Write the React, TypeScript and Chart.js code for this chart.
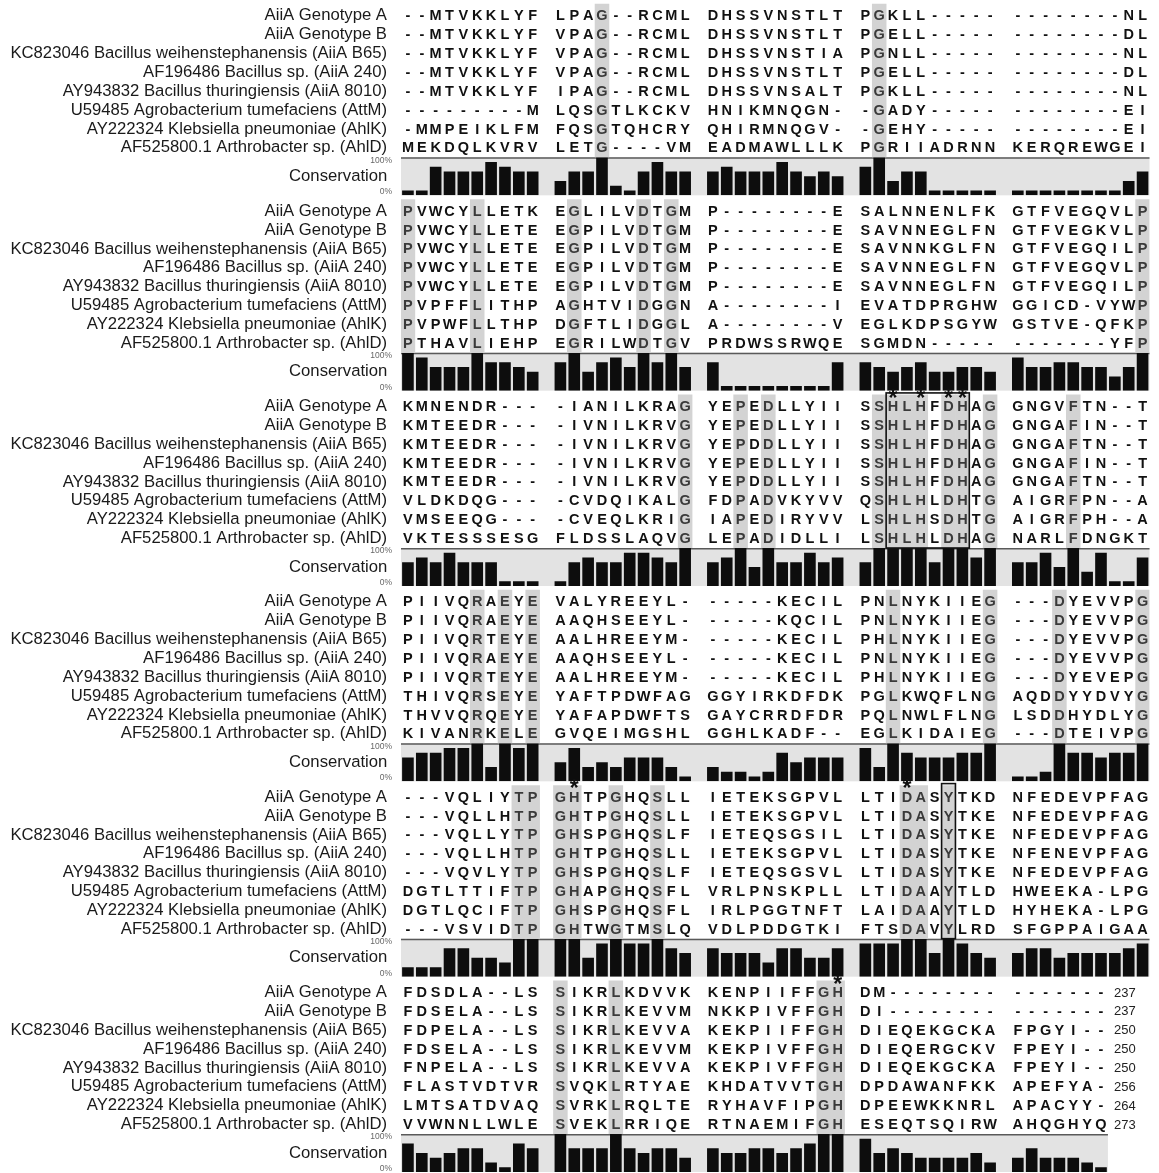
import React, { useEffect, useRef } from "react";
import { Chart, registerables } from "chart.js";

Chart.register(...registerables);

const FONT = '"Liberation Sans", Arial, Helvetica, sans-serif';

// ---------------- data ----------------
const sequenceNames = [
  "AiiA Genotype A",
  "AiiA Genotype B",
  "KC823046 Bacillus weihenstephanensis (AiiA B65)",
  "AF196486 Bacillus sp. (AiiA 240)",
  "AY943832 Bacillus thuringiensis (AiiA 8010)",
  "U59485 Agrobacterium tumefaciens (AttM)",
  "AY222324 Klebsiella pneumoniae (AhlK)",
  "AF525800.1 Arthrobacter sp. (AhlD)",
];

const endNumbers = [237, 237, 250, 250, 250, 256, 264, 273];

const block1Seqs = [
  "--MTVKKLYF LPAG--RCML DHSSVNSTLT PGKLL----- --------NL",
  "--MTVKKLYF VPAG--RCML DHSSVNSTLT PGELL----- --------DL",
  "--MTVKKLYF VPAG--RCML DHSSVNSTIA PGNLL----- --------NL",
  "--MTVKKLYF VPAG--RCML DHSSVNSTLT PGELL----- --------DL",
  "--MTVKKLYF IPAG--RCML DHSSVNSALT PGKLL----- --------NL",
  "---------M LQSGTLKCKV HNIKMNQGN- -GADY----- --------EI",
  "-MMPEIKLFM FQSGTQHCRY QHIRMNQGV- -GEHY----- --------EI",
  "MEKDQLKVRV LETG----VM EADMAWLLLK PGRIIADRNN KERQREWGEI",
];
const block1Cons = [
  12.5, 12.5, 75, 62.5, 62.5, 62.5, 87.5, 75, 62.5, 62.5,
  37.5, 62.5, 62.5, 100, 25, 12.5, 62.5, 87.5, 62.5, 62.5,
  62.5, 75, 62.5, 62.5, 62.5, 87.5, 62.5, 50, 62.5, 50,
  75, 100, 37.5, 62.5, 62.5, 12.5, 12.5, 12.5, 12.5, 12.5,
  12.5, 12.5, 12.5, 12.5, 12.5, 12.5, 12.5, 12.5, 37.5, 62.5,
];
const block1Shaded = [13, 31];

const block2Seqs = [
  "PVWCYLLETK EGLILVDTGM P--------E SALNNENLFK GTFVEGQVLP",
  "PVWCYLLETE EGPILVDTGM P--------E SAVNNEGLFN GTFVEGKVLP",
  "PVWCYLLETE EGPILVDTGM P--------E SAVNNKGLFN GTFVEGQILP",
  "PVWCYLLETE EGPILVDTGM P--------E SAVNNEGLFN GTFVEGQVLP",
  "PVWCYLLETE EGPILVDTGM P--------E SAVNNEGLFN GTFVEGQILP",
  "PVPFFLITHP AGHTVIDGGN A--------I EVATDPRGHW GGICD-VYWP",
  "PVPWFLLTHP DGFTLIDGGL A--------V EGLKDPSGYW GSTVE-QFKP",
  "PTHAVLIEHP EGRILWDTGV PRDWSSRWQE SGMDN----- -------YFP",
];
const block2Cons = [
  100, 87.5, 62.5, 62.5, 62.5, 100, 75, 75, 62.5, 50,
  75, 100, 50, 75, 87.5, 62.5, 100, 75, 100, 62.5,
  75, 12.5, 12.5, 12.5, 12.5, 12.5, 12.5, 12.5, 12.5, 75,
  75, 62.5, 50, 62.5, 75, 50, 50, 62.5, 62.5, 50,
  87.5, 62.5, 62.5, 75, 75, 62.5, 62.5, 37.5, 62.5, 100,
];
const block2Shaded = [0, 5, 11, 16, 18, 49];

const block3Seqs = [
  "KMNENDR--- -IANILKRAG YEPEDLLYII SSHLHFDHAG GNGVFTN--T",
  "KMTEEDR--- -IVNILKRVG YEPEDLLYII SSHLHFDHAG GNGAFIN--T",
  "KMTEEDR--- -IVNILKRVG YEPDDLLYII SSHLHFDHAG GNGAFTN--T",
  "KMTEEDR--- -IVNILKRVG YEPEDLLYII SSHLHFDHAG GNGAFIN--T",
  "KMTEEDR--- -IVNILKRVG YEPDDLLYII SSHLHFDHAG GNGAFTN--T",
  "VLDKDQG--- -CVDQIKALG FDPADVKYVV QSHLHLDHTG AIGRFPN--A",
  "VMSEEQG--- -CVEQLKRIG IAPEDIRYVV LSHLHSDHTG AIGRFPH--A",
  "VKTESSSESG FLDSSLAQVG LEPADIDLLI LSHLHLDHAG NARLFDNGKT",
];
const block3Cons = [
  62.5, 75, 62.5, 87.5, 62.5, 62.5, 62.5, 12.5, 12.5, 12.5,
  12.5, 62.5, 75, 62.5, 62.5, 87.5, 87.5, 75, 62.5, 100,
  62.5, 75, 100, 50, 100, 62.5, 62.5, 87.5, 62.5, 75,
  62.5, 100, 100, 100, 100, 62.5, 100, 100, 75, 100,
  62.5, 62.5, 87.5, 50, 100, 37.5, 87.5, 12.5, 12.5, 75,
];
const block3Shaded = [19, 22, 24, 31, 32, 33, 34, 36, 37, 39, 44];
const block3Box = [32, 37];
const block3Stars = [32, 34, 36, 37];

const block4Seqs = [
  "PIIVQRAEYE VALYREEYL- -----KECIL PNLNYKIIEG ---DYEVVPG",
  "PIIVQRAEYE AAQHSEEYL- -----KQCIL PNLNYKIIEG ---DYEVVPG",
  "PIIVQRTEYE AALHREEYM- -----KECIL PHLNYKIIEG ---DYEVVPG",
  "PIIVQRAEYE AAQHSEEYL- -----KECIL PNLNYKIIEG ---DYEVVPG",
  "PIIVQRTEYE AALHREEYM- -----KECIL PHLNYKIIEG ---DYEVEPG",
  "THIVQRSEYE YAFTPDWFAG GGYIRKDFDK PGLKWQFLNG AQDDYYDVYG",
  "THVVQRQEYE YAFAPDWFTS GAYCRRDFDR PQLNWLFLNG LSDDHYDLYG",
  "KIVANRKELE GVQEIMGSHL GGHLKADF-- EGLKIDAIEG ---DTEIVPG",
];
const block4Cons = [
  62.5, 75, 75, 87.5, 87.5, 100, 37.5, 100, 87.5, 100,
  50, 87.5, 37.5, 50, 37.5, 62.5, 62.5, 62.5, 37.5, 12.5,
  37.5, 25, 25, 12.5, 25, 75, 50, 62.5, 62.5, 62.5,
  87.5, 37.5, 100, 75, 62.5, 62.5, 62.5, 75, 75, 100,
  12.5, 12.5, 25, 100, 75, 75, 62.5, 75, 75, 100,
];
const block4Shaded = [5, 7, 9, 32, 39, 43, 49];

const block5Seqs = [
  "---VQLIYTP GHTPGHQSLL IETEKSGPVL LTIDASYTKD NFEDEVPFAG",
  "---VQLLHTP GHTPGHQSLL IETEKSGPVL LTIDASYTKE NFEDEVPFAG",
  "---VQLLYTP GHSPGHQSLF IETEQSGSIL LTIDASYTKE NFEDEVPFAG",
  "---VQLLHTP GHTPGHQSLL IETEKSGPVL LTIDASYTKE NFENEVPFAG",
  "---VQVLYTP GHSPGHQSLF IETEQSGSVL LTIDASYTKE NFEDEVPFAG",
  "DGTLTTIFTP GHAPGHQSFL VRLPNSKPLL LTIDAAYTLD HWEEKA-LPG",
  "DGTLQCIFTP GHSPGHQSFL IRLPGGTNFT LAIDAAYTLD HYHEKA-LPG",
  "---VSVIDTP GHTWGTMSLQ VDLPDDGTKI FTSDAVYLRD SFGPPAIGAA",
];
const block5Cons = [
  25, 25, 25, 75, 75, 50, 50, 37.5, 100, 100,
  100, 100, 50, 87.5, 100, 87.5, 87.5, 100, 75, 62.5,
  75, 62.5, 62.5, 62.5, 37.5, 75, 75, 50, 50, 75,
  87.5, 87.5, 87.5, 100, 100, 62.5, 100, 87.5, 62.5, 50,
  62.5, 75, 75, 50, 62.5, 62.5, 62.5, 62.5, 75, 87.5,
];
const block5Shaded = [8, 9, 10, 11, 14, 17, 33, 34, 36];
const block5Box = [36, 36];
const block5Stars = [11, 33];

const block6Seqs = [
  "FDSDLA--LS SIKRLKDVVK KENPIIFFGH DM-------- -------",
  "FDSELA--LS SIKRLKEVVM NKKPIVFFGH DI-------- -------",
  "FDPELA--LS SIKRLKEVVA KEKPIIFFGH DIEQEKGCKA FPGYI--",
  "FDSELA--LS SIKRLKEVVM KEKPIVFFGH DIEQERGCKV FPEYI--",
  "FNPELA--LS SIKRLKEVVA KEKPIVFFGH DIEQEKGCKA FPEYI--",
  "FLASTVDTVR SVQKLRTYAE KHDATVVTGH DPDAWANFKK APEFYA-",
  "LMTSATDVAQ SVRKLRQLTE RYHAVFIPGH DPEEWKKNRL APACYY-",
  "VVWNNLLWLE SVEKLRRIQE RTNAEMIFGH ESEQTSQIRW AHQGHYQ",
];
const block6Cons = [
  75, 50, 37.5, 50, 62.5, 62.5, 25, 12.5, 75, 62.5,
  100, 62.5, 62.5, 62.5, 100, 62.5, 50, 62.5, 62.5, 37.5,
  62.5, 50, 50, 62.5, 62.5, 50, 62.5, 75, 100, 100,
  87.5, 50, 62.5, 50, 37.5, 37.5, 37.5, 37.5, 50, 25,
  37.5, 62.5, 37.5, 37.5, 37.5, 25, 12.5,
];
const block6Shaded = [10, 14, 28, 29];
const block6Stars = [29];

const consTickValues = [9, 50, 92]; // label positions: 0%, Conservation, 100%

// ---------------- layout helpers ----------------
const GROUP_SIZE = 10;
const GROUP_COUNT = 5;
const SEQ_MIN = -0.84;
const SEQ_MAX = 7.5;
const SHADE_FROM = -0.62;

const columnPos = (c: number) => c + Math.floor(c / GROUP_SIZE);

const positionLabels: string[] = [];
for (let g = 0; g < GROUP_COUNT; g++) {
  for (let k = 0; k < GROUP_SIZE; k++) positionLabels.push("col" + (g * GROUP_SIZE + k + 1));
  if (g < GROUP_COUNT - 1) positionLabels.push("gap" + (g + 1));
}

type Block = {
  seqs: string[];
  cons: number[];
  shaded: number[];
  box: number[] | null;
  stars: number[];
  ends: number[] | null;
};

const blocks: Block[] = [
  { seqs: block1Seqs, cons: block1Cons, shaded: block1Shaded, box: null, stars: [], ends: null },
  { seqs: block2Seqs, cons: block2Cons, shaded: block2Shaded, box: null, stars: [], ends: null },
  { seqs: block3Seqs, cons: block3Cons, shaded: block3Shaded, box: block3Box, stars: block3Stars, ends: null },
  { seqs: block4Seqs, cons: block4Cons, shaded: block4Shaded, box: null, stars: [], ends: null },
  { seqs: block5Seqs, cons: block5Cons, shaded: block5Shaded, box: block5Box, stars: block5Stars, ends: null },
  { seqs: block6Seqs, cons: block6Cons, shaded: block6Shaded, box: null, stars: block6Stars, ends: endNumbers },
];

const alignmentPlugin = {
  id: "alignmentDecor",
  beforeDatasetsDraw(chart: any) {
    const { ctx } = chart;
    const x = chart.scales.x;
    const half = (x.getPixelForValue(1) - x.getPixelForValue(0)) / 2;
    ctx.save();
    blocks.forEach((b, i) => {
      const yc = chart.scales["yc" + i];
      const left = x.getPixelForValue(0) - half;
      const right = x.getPixelForValue(columnPos(b.cons.length - 1)) + half;
      ctx.fillStyle = "#e3e3e3";
      ctx.fillRect(left, yc.top, right - left, yc.bottom - yc.top);
      ctx.strokeStyle = "#5a5a5a";
      ctx.lineWidth = 1.5;
      ctx.beginPath();
      ctx.moveTo(left, yc.top + 0.75);
      ctx.lineTo(right, yc.top + 0.75);
      ctx.stroke();
    });
    ctx.restore();
  },
  afterDatasetsDraw(chart: any) {
    const { ctx } = chart;
    const x = chart.scales.x;
    const half = (x.getPixelForValue(1) - x.getPixelForValue(0)) / 2;
    ctx.save();
    blocks.forEach((b, i) => {
      const ys = chart.scales["ys" + i];
      // residues
      ctx.font = `bold 14.5px ${FONT}`;
      ctx.textAlign = "center";
      ctx.textBaseline = "middle";
      b.seqs.forEach((s, r) => {
        const chars = s.replace(/ /g, "");
        const y = ys.getPixelForValue(r) + 0.5;
        for (let c = 0; c < chars.length; c++) {
          ctx.fillStyle = b.shaded.includes(c) ? "#3a3a3a" : "#111111";
          ctx.fillText(chars[c], x.getPixelForValue(columnPos(c)), y);
        }
      });
      // boxes
      if (b.box) {
        const l = x.getPixelForValue(columnPos(b.box[0])) - half;
        const rr = x.getPixelForValue(columnPos(b.box[1])) + half;
        const t = ys.getPixelForValue(-0.72);
        const bt = ys.getPixelForValue(SEQ_MAX);
        ctx.strokeStyle = "#111";
        ctx.lineWidth = 1.6;
        ctx.strokeRect(l, t, rr - l, bt - t);
      }
      // asterisks
      ctx.font = `bold 23px ${FONT}`;
      ctx.textBaseline = "alphabetic";
      ctx.fillStyle = "#111";
      b.stars.forEach((c) => {
        ctx.fillText("*", x.getPixelForValue(columnPos(c)), ys.top + 15);
      });
      // end numbers
      if (b.ends) {
        const lastCol = b.cons.length - 1;
        const nx = x.getPixelForValue(columnPos(lastCol)) + half + 6;
        ctx.font = `13px ${FONT}`;
        ctx.textAlign = "left";
        ctx.textBaseline = "middle";
        ctx.fillStyle = "#222";
        b.ends.forEach((n, r) => {
          ctx.fillText(String(n), nx, ys.getPixelForValue(r) + 0.5);
        });
      }
    });
    ctx.restore();
  },
};

const fixAxisBox = (s: any) => {
  s.width = 401;
  s.paddingTop = 0;
  s.paddingBottom = 0;
  s.paddingLeft = 0;
  s.paddingRight = 0;
};

function buildConfig(): any {
  const datasets: any[] = [];
  const scales: any = {
    x: {
      type: "category",
      labels: positionLabels,
      offset: true,
      display: false,
      grid: { display: false },
    },
  };
  blocks.forEach((b, i) => {
    const shadeData: any[] = positionLabels.map(() => null);
    b.shaded.forEach((c) => {
      shadeData[columnPos(c)] = [SHADE_FROM, SEQ_MAX];
    });
    datasets.push({
      type: "bar",
      label: "shade" + i,
      data: shadeData,
      yAxisID: "ys" + i,
      backgroundColor: "#d3d3d3",
      borderWidth: 0,
      barPercentage: 1,
      categoryPercentage: 1,
      grouped: false,
    });
    const consData: any[] = positionLabels.map(() => null);
    b.cons.forEach((v, c) => {
      consData[columnPos(c)] = v;
    });
    datasets.push({
      type: "bar",
      label: "conservation" + i,
      data: consData,
      yAxisID: "yc" + i,
      backgroundColor: "#0d0d0d",
      borderWidth: 0,
      barPercentage: 0.84,
      categoryPercentage: 1,
      grouped: false,
    });

    scales["ys" + i] = {
      type: "linear",
      axis: "y",
      position: "left",
      stack: "alignment",
      stackWeight: 157.3,
      weight: 100 - 2 * i,
      min: SEQ_MIN,
      max: SEQ_MAX,
      reverse: true,
      grid: { display: false, drawTicks: false },
      border: { display: false },
      afterBuildTicks: (s: any) => {
        s.ticks = sequenceNames.map((_, r) => ({ value: r }));
      },
      afterFit: fixAxisBox,
      ticks: {
        autoSkip: false,
        padding: 14,
        color: "#1a1a1a",
        font: { family: FONT, size: 16.7 },
        callback: (v: any) => sequenceNames[v as number] ?? "",
      },
    };
    scales["yc" + i] = {
      type: "linear",
      axis: "y",
      position: "left",
      stack: "alignment",
      stackWeight: 38,
      weight: 99 - 2 * i,
      min: 0,
      max: 100,
      grid: { display: false, drawTicks: false },
      border: { display: false },
      afterBuildTicks: (s: any) => {
        s.ticks = consTickValues.map((v) => ({ value: v }));
      },
      afterFit: fixAxisBox,
      ticks: {
        autoSkip: false,
        padding: 9,
        color: (ctx: any) => (ctx.tick && ctx.tick.value === 50 ? "#1a1a1a" : "#666"),
        font: (ctx: any) =>
          ctx.tick && ctx.tick.value === 50
            ? { family: FONT, size: 16.7 }
            : { family: FONT, size: 8.5 },
        callback: (v: any) => (v === 50 ? "Conservation " : v > 50 ? "100%" : "0%"),
      },
    };
  });

  return {
    type: "bar",
    data: { labels: positionLabels, datasets },
    options: {
      responsive: false,
      animation: false,
      devicePixelRatio: 1,
      layout: { padding: { left: 0, right: 9.5, top: 0, bottom: 1 } },
      plugins: {
        legend: { display: false },
        tooltip: { enabled: false },
        title: { display: false },
      },
      scales,
    },
    plugins: [alignmentPlugin],
  };
}

export default function App() {
  const canvasRef = useRef<HTMLCanvasElement | null>(null);
  useEffect(() => {
    if (!canvasRef.current) return;
    const chart = new Chart(canvasRef.current, buildConfig());
    return () => chart.destroy();
  }, []);
  return (
    <div
      style={{
        position: "absolute",
        left: 0,
        top: 0,
        width: 1159,
        height: 1173,
        background: "#ffffff",
      }}
    >
      <canvas ref={canvasRef} width={1159} height={1173} style={{ display: "block" }} />
    </div>
  );
}
